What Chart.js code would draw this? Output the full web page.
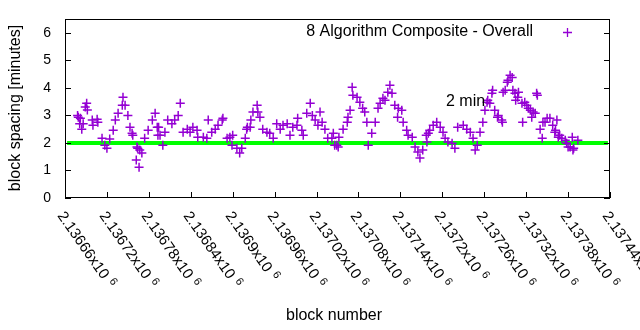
<!DOCTYPE html>
<html>
<head>
<meta charset="utf-8">
<script src="https://cdn.jsdelivr.net/npm/chart.js@4/dist/chart.umd.min.js"></script>
<style>
  html, body { margin: 0; padding: 0; background: #fff; }
  #wrap { width: 640px; height: 330px; }
</style>
</head>
<body>
<div id="wrap"><canvas id="chart" width="640" height="330"></canvas></div>
<script>
// block numbers (x) and block spacing in minutes (y)
const blocks = [
  2136678, 2136679, 2136681, 2136682, 2136684, 2136686, 2136689, 2136691, 2136692, 2136699,
  2136700, 2136706, 2136707, 2136713, 2136717, 2136720, 2136724, 2136729, 2136732, 2136736,
  2136742, 2136743, 2136746, 2136750, 2136753, 2136756, 2136757, 2136762, 2136763, 2136764,
  2136766, 2136767, 2136770, 2136774, 2136779, 2136785, 2136789, 2136792, 2136793, 2136794,
  2136796, 2136800, 2136803, 2136807, 2136813, 2136817, 2136822, 2136825, 2136829, 2136835,
  2136839, 2136843, 2136849, 2136850, 2136858, 2136863, 2136865, 2136870, 2136875, 2136879,
  2136885, 2136886, 2136892, 2136896, 2136899, 2136900, 2136906, 2136910, 2136913, 2136918,
  2136920, 2136921, 2136925, 2136926, 2136929, 2136935, 2136936, 2136939, 2136943, 2136949,
  2136953, 2136958, 2136963, 2136968, 2136972, 2136978, 2136982, 2136986, 2136992, 2136993,
  2136999, 2137001, 2137006, 2137011, 2137014, 2137018, 2137022, 2137025, 2137028, 2137032,
  2137036, 2137042, 2137044, 2137046, 2137049, 2137051, 2137052, 2137058, 2137064, 2137065,
  2137068, 2137071, 2137072, 2137078, 2137082, 2137086, 2137089, 2137092, 2137094, 2137099,
  2137104, 2137108, 2137111, 2137115, 2137118, 2137122, 2137125, 2137128, 2137132, 2137136,
  2137137, 2137142, 2137144, 2137149, 2137151, 2137157, 2137161, 2137165, 2137168, 2137172,
  2137177, 2137178, 2137180, 2137182, 2137187, 2137192, 2137197, 2137201, 2137204, 2137208,
  2137214, 2137218, 2137222, 2137230, 2137235, 2137240, 2137244, 2137247, 2137250, 2137254,
  2137258, 2137261, 2137264, 2137265, 2137268, 2137271, 2137272, 2137275, 2137279, 2137280,
  2137285, 2137286, 2137287, 2137290, 2137293, 2137294, 2137297, 2137300, 2137301, 2137304,
  2137305, 2137308, 2137309, 2137314, 2137315, 2137318, 2137321, 2137323, 2137326, 2137328,
  2137330, 2137333, 2137335, 2137336, 2137340, 2137343, 2137344, 2137347, 2137350, 2137354,
  2137358, 2137361, 2137362, 2137364, 2137366, 2137368, 2137371, 2137376, 2137378, 2137380,
  2137383, 2137386, 2137387, 2137388, 2137394
];
const spacing = [
  3.00, 2.93, 2.70, 2.90, 2.50, 2.70, 3.30, 3.44, 3.20, 2.83,
  2.64, 2.86, 2.75, 2.17, 1.92, 1.81, 2.14, 2.46, 2.83, 3.08,
  3.37, 3.66, 3.37, 3.00, 2.57, 2.35, 2.28, 1.38, 1.85, 1.81,
  1.12, 1.74, 1.63, 2.17, 2.46, 2.83, 3.08, 2.57, 2.28, 2.57,
  2.28, 1.92, 2.39, 2.83, 2.70, 2.83, 3.00, 3.44, 2.39, 2.50,
  2.39, 2.57, 2.46, 2.21, 2.21, 2.17, 2.83, 2.39, 2.50, 2.64,
  2.83, 2.90, 2.17, 2.21, 1.92, 2.28, 1.81, 1.63, 1.81, 2.17,
  2.50, 2.57, 2.57, 2.83, 3.12, 3.37, 3.12, 2.93, 2.50, 2.39,
  2.35, 2.17, 2.70, 2.50, 2.64, 2.70, 2.28, 2.57, 2.64, 2.90,
  2.46, 2.28, 3.08, 3.44, 3.00, 2.83, 2.64, 3.12, 2.75, 2.50,
  2.17, 2.17, 2.35, 1.92, 1.92, 1.85, 2.21, 2.50, 2.75, 2.93,
  3.19, 4.02, 3.73, 3.66, 3.48, 3.26, 3.12, 2.75, 1.92, 2.35,
  2.75, 3.26, 3.44, 3.62, 3.55, 3.84, 4.09, 3.80, 3.37, 2.93,
  3.26, 3.19, 2.75, 2.46, 2.28, 2.21, 1.85, 1.67, 1.45, 1.74,
  2.28, 2.03, 2.35, 2.46, 2.64, 2.75, 2.57, 2.39, 2.17, 2.03,
  1.99, 1.81, 2.57, 2.64, 2.50, 2.39, 2.17, 1.74, 1.92, 2.39,
  2.75, 3.19, 3.48, 3.55, 3.44, 3.80, 3.91, 3.19, 2.93, 3.00,
  2.83, 2.75, 3.84, 3.91, 4.20, 4.28, 4.46, 4.38, 3.91, 3.80,
  3.55, 3.66, 3.84, 3.44, 2.75, 3.48, 3.37, 3.26, 3.19, 2.93,
  3.12, 3.08, 3.80, 3.73, 2.50, 2.17, 2.75, 2.75, 2.90, 2.90,
  2.64, 2.39, 2.46, 2.83, 2.21, 2.28, 2.17, 2.10, 1.99, 1.85,
  1.85, 2.21, 1.74, 1.81, 2.10
];
// 2 minute target line
const targetX = [2136663, 2137437];
const targetY = [2, 2];

const xMin = 2136660, xMax = 2137440, xStep = 60;
const xTickLabels = ['2.13666', '2.13672', '2.13678', '2.13684', '2.1369', '2.13696', '2.13702',
  '2.13708', '2.13714', '2.1372', '2.13726', '2.13732', '2.13738', '2.13744'];
const yTicks = [0, 1, 2, 3, 4, 5, 6];

const FONT = '"Liberation Sans", Arial, sans-serif';

// gnuplot style frame, inward ticks, rotated labels and text
const gnuplotFrame = {
  id: 'gnuplotFrame',
  afterDraw(chart) {
    const ctx = chart.ctx;
    const a = chart.chartArea;
    const xs = chart.scales.x, ys = chart.scales.y;
    ctx.save();
    ctx.strokeStyle = '#000';
    ctx.lineWidth = 1;
    ctx.strokeRect(a.left + 0.5, a.top + 0.5, a.right - a.left - 1, a.bottom - a.top - 1);

    ctx.fillStyle = '#000';
    ctx.font = '14px ' + FONT;
    ctx.textAlign = 'right';
    ctx.textBaseline = 'middle';
    yTicks.forEach(v => {
      const py = Math.round(ys.getPixelForValue(v)) + 0.5;
      ctx.beginPath();
      ctx.moveTo(a.left, py); ctx.lineTo(a.left + 6, py);
      ctx.moveTo(a.right, py); ctx.lineTo(a.right - 6, py);
      ctx.stroke();
      ctx.fillText(String(v), a.left - 14, py);
    });

    xTickLabels.forEach((lab, i) => {
      const px = Math.round(xs.getPixelForValue(xMin + i * xStep)) + 0.5;
      ctx.beginPath();
      ctx.moveTo(px, a.bottom); ctx.lineTo(px, a.bottom - 6);
      ctx.stroke();
      ctx.save();
      ctx.translate(px + 1, a.bottom + 11);
      ctx.rotate(55 * Math.PI / 180);
      ctx.textAlign = 'left';
      ctx.textBaseline = 'top';
      ctx.font = '15px ' + FONT;
      const main = lab + 'x10';
      ctx.fillText(main, 0, 0);
      const w = ctx.measureText(main).width;
      ctx.font = '11px ' + FONT;
      ctx.fillText('6', w + 5, -2);
      ctx.restore();
    });

    // axis titles
    ctx.font = '16px ' + FONT;
    ctx.textAlign = 'center';
    ctx.textBaseline = 'middle';
    ctx.fillText('block number', 334, 316);
    ctx.save();
    ctx.translate(16, 108);
    ctx.rotate(-Math.PI / 2);
    ctx.fillText('block spacing [minutes]', 0, 0);
    ctx.restore();

    // key
    ctx.textAlign = 'right';
    ctx.fillText('8 Algorithm Composite - Overall', 533, 32);
    ctx.strokeStyle = '#9400d3';
    ctx.lineWidth = 1.3;
    ctx.beginPath();
    ctx.moveTo(563, 32.5); ctx.lineTo(572, 32.5);
    ctx.moveTo(567.5, 28); ctx.lineTo(567.5, 37);
    ctx.stroke();

    // label
    ctx.fillStyle = '#000';
    ctx.textAlign = 'left';
    ctx.fillText('2 min', 446, 102);
    ctx.restore();
  }
};

const ctx = document.getElementById('chart').getContext('2d');
new Chart(ctx, {
  type: 'scatter',
  data: {
    datasets: [
      {
        label: '2 min',
        data: targetX.map((x, i) => ({ x: x, y: targetY[i] })),
        showLine: true,
        borderColor: '#00ff00',
        borderWidth: 4,
        pointRadius: 0,
        order: 2
      },
      {
        label: '8 Algorithm Composite - Overall',
        data: blocks.map((b, i) => ({ x: b, y: spacing[i] })),
        showLine: false,
        pointStyle: 'cross',
        pointRadius: 4.5,
        borderColor: '#9400d3',
        borderWidth: 1.5,
        order: 1
      }
    ]
  },
  options: {
    responsive: false,
    animation: false,
    layout: { padding: { left: 65, top: 19, right: 30, bottom: 132 } },
    plugins: { legend: { display: false }, tooltip: { enabled: false } },
    scales: {
      x: { type: 'linear', display: false, min: xMin, max: xMax },
      y: { type: 'linear', display: false, min: 0, max: 6.5 }
    }
  },
  plugins: [gnuplotFrame]
});
</script>
</body>
</html>
